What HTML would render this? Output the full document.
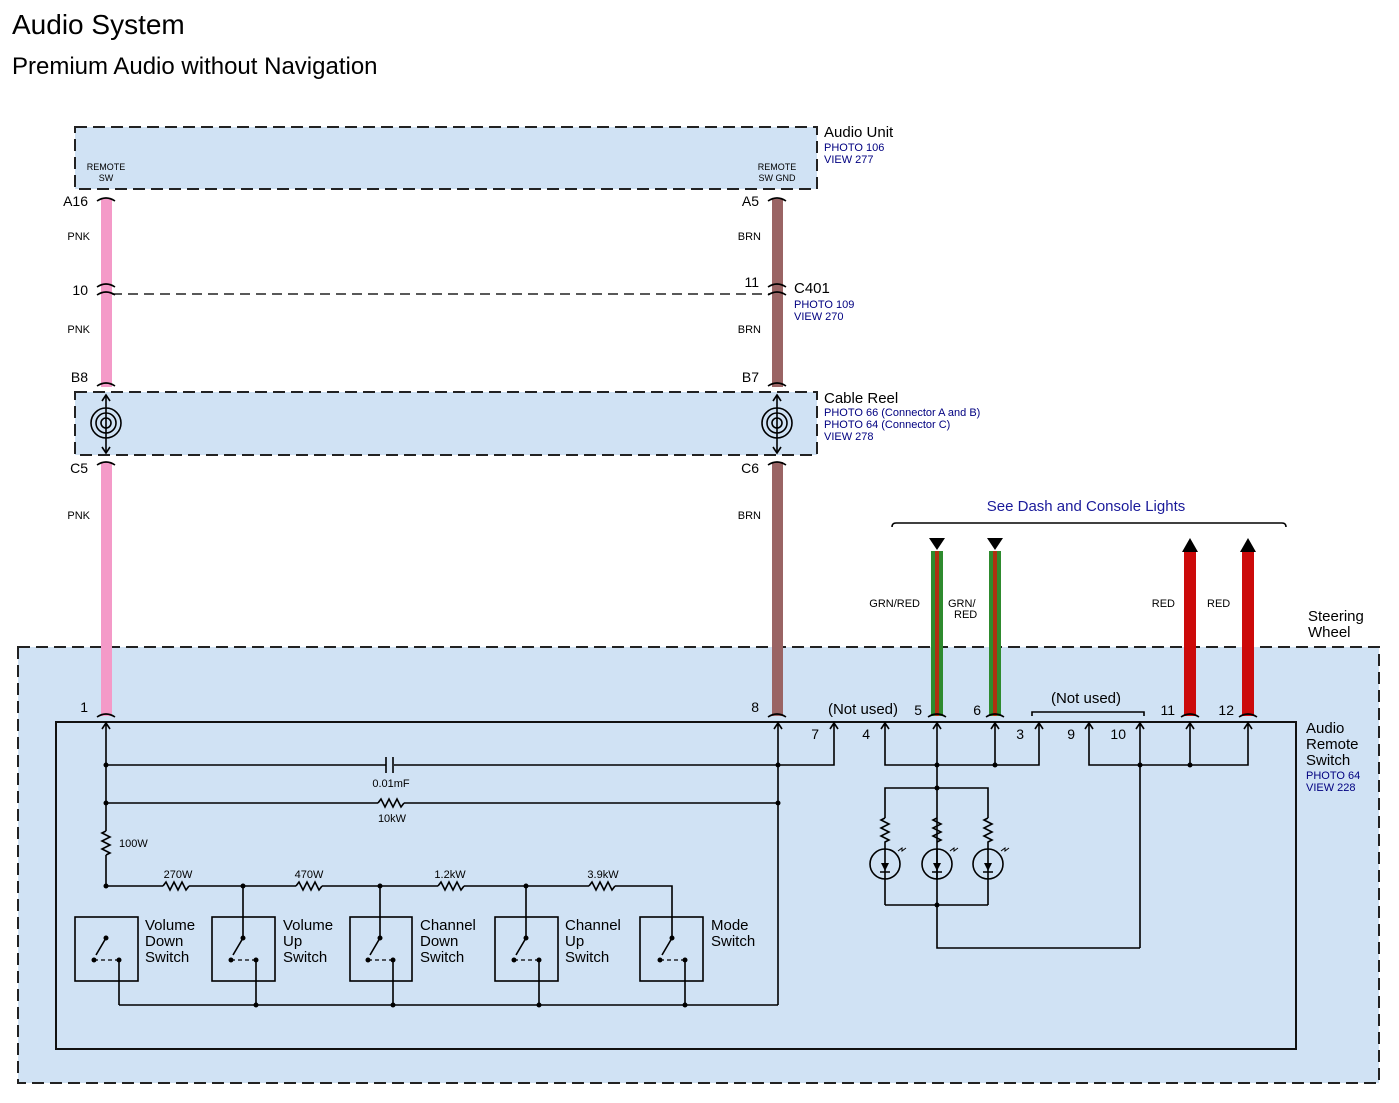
<!DOCTYPE html>
<html><head><meta charset="utf-8"><style>
body{margin:0;background:#fff;}
svg{display:block;font-family:"Liberation Sans",Arial,sans-serif;}
.b{fill:#000080;font-size:11px}
.s{font-size:12px}
.w{stroke:#000;stroke-width:1.6;fill:none}
</style></head><body>
<svg width="1399" height="1103" viewBox="0 0 1399 1103">
<text x="12" y="34" font-size="28">Audio System</text>
<text x="12" y="74" font-size="24">Premium Audio without Navigation</text>

<rect x="18" y="647" width="1361" height="436" fill="#d0e2f4" stroke="#222" stroke-width="2" stroke-dasharray="12,6"/>
<rect x="56" y="722" width="1240" height="327" fill="none" stroke="#111" stroke-width="2"/>
<text x="1308" y="621" font-size="15">Steering</text><text x="1308" y="637" font-size="15">Wheel</text>
<text x="1306" y="733" font-size="15">Audio</text><text x="1306" y="749" font-size="15">Remote</text><text x="1306" y="765" font-size="15">Switch</text>
<text x="1306" y="779" class="b">PHOTO 64</text><text x="1306" y="791" class="b">VIEW 228</text>

<rect x="75" y="127" width="742" height="62" fill="#d0e2f4" stroke="#222" stroke-width="2" stroke-dasharray="12,6"/>
<text x="106" y="170" font-size="9" text-anchor="middle">REMOTE</text><text x="106" y="181" font-size="9" text-anchor="middle">SW</text>
<text x="777" y="170" font-size="9" text-anchor="middle">REMOTE</text><text x="777" y="181" font-size="9" text-anchor="middle">SW GND</text>
<text x="824" y="137" font-size="15">Audio Unit</text><text x="824" y="151" class="b">PHOTO 106</text><text x="824" y="163" class="b">VIEW 277</text>

<rect x="75" y="392" width="742" height="63" fill="#d0e2f4" stroke="#222" stroke-width="2" stroke-dasharray="12,6"/>
<text x="824" y="403" font-size="15">Cable Reel</text>
<text x="824" y="416" class="b">PHOTO 66 (Connector A and B)</text>
<text x="824" y="428" class="b">PHOTO 64 (Connector C)</text>
<text x="824" y="440" class="b">VIEW 278</text>

<line x1="112" y1="294" x2="770" y2="294" stroke="#222" stroke-width="1.5" stroke-dasharray="10,6"/>
<text x="794" y="293" font-size="15">C401</text><text x="794" y="308" class="b">PHOTO 109</text><text x="794" y="320" class="b">VIEW 270</text>

<rect x="101" y="199" width="11" height="188" fill="#f49ac8"/>
<rect x="101" y="462" width="11" height="254" fill="#f49ac8"/>
<rect x="772" y="199" width="11" height="188" fill="#9a6464"/>
<rect x="772" y="462" width="11" height="254" fill="#9a6464"/>
<g class="w" stroke-width="2">
<path d="M97 201 Q106 195 115 201"/><path d="M97 287 Q106 281 115 287"/><path d="M97 295 Q106 289 115 295"/><path d="M97 386 Q106 380 115 386"/><path d="M97 465 Q106 459 115 465"/><path d="M97 717 Q106 711 115 717"/>
<path d="M768 201 Q777 195 786 201"/><path d="M768 287 Q777 281 786 287"/><path d="M768 295 Q777 289 786 295"/><path d="M768 386 Q777 380 786 386"/><path d="M768 465 Q777 459 786 465"/><path d="M768 717 Q777 711 786 717"/>
</g>
<text x="88" y="206" font-size="14" text-anchor="end">A16</text><text x="90" y="240" font-size="11" text-anchor="end">PNK</text>
<text x="88" y="295" font-size="14" text-anchor="end">10</text><text x="90" y="333" font-size="11" text-anchor="end">PNK</text>
<text x="88" y="382" font-size="14" text-anchor="end">B8</text><text x="88" y="473" font-size="14" text-anchor="end">C5</text><text x="90" y="519" font-size="11" text-anchor="end">PNK</text>
<text x="88" y="712" font-size="14" text-anchor="end">1</text>
<text x="759" y="206" font-size="14" text-anchor="end">A5</text><text x="761" y="240" font-size="11" text-anchor="end">BRN</text>
<text x="759" y="287" font-size="14" text-anchor="end">11</text><text x="761" y="333" font-size="11" text-anchor="end">BRN</text>
<text x="759" y="382" font-size="14" text-anchor="end">B7</text><text x="759" y="473" font-size="14" text-anchor="end">C6</text><text x="761" y="519" font-size="11" text-anchor="end">BRN</text>
<text x="759" y="712" font-size="14" text-anchor="end">8</text>

<g class="w" stroke-width="1.5">
<circle cx="106" cy="423" r="15"/><circle cx="106" cy="423" r="10"/><circle cx="106" cy="423" r="5"/>
<line x1="106" y1="396" x2="106" y2="452"/><path d="M102 401 L106 395 L110 401 M102 447 L106 453 L110 447"/>
<circle cx="777" cy="423" r="15"/><circle cx="777" cy="423" r="10"/><circle cx="777" cy="423" r="5"/>
<line x1="777" y1="396" x2="777" y2="452"/><path d="M773 401 L777 395 L781 401 M773 447 L777 453 L781 447"/>
</g>

<text x="1086" y="511" font-size="15" fill="#1a1a9a" text-anchor="middle">See Dash and Console Lights</text>
<path d="M892 527 Q892 523 896 523 L1282 523 Q1286 523 1286 527" class="w" stroke-width="1.3"/>
<rect x="931" y="551" width="12" height="165" fill="#2e8b2e"/><rect x="935" y="551" width="4" height="165" fill="#b03010"/>
<rect x="989" y="551" width="12" height="165" fill="#2e8b2e"/><rect x="993" y="551" width="4" height="165" fill="#b03010"/>
<path d="M929 538 L945 538 L937 550Z M987 538 L1003 538 L995 550Z"/>
<rect x="1184" y="551" width="12" height="165" fill="#cc0a0a"/><rect x="1242" y="551" width="12" height="165" fill="#cc0a0a"/>
<path d="M1182 552 L1198 552 L1190 538Z M1240 552 L1256 552 L1248 538Z"/>
<text x="920" y="607" font-size="11" text-anchor="end">GRN/RED</text>
<text x="948" y="607" font-size="11">GRN/</text><text x="954" y="618" font-size="11">RED</text>
<text x="1175" y="607" font-size="11" text-anchor="end">RED</text><text x="1207" y="607" font-size="11">RED</text>
<g class="w" stroke-width="2">
<path d="M928 717 Q937 711 946 717"/><path d="M986 717 Q995 711 1004 717"/><path d="M1181 717 Q1190 711 1199 717"/><path d="M1239 717 Q1248 711 1257 717"/>
</g>
<text x="898" y="714" font-size="15" text-anchor="end">(Not used)</text>
<text x="922" y="715" font-size="14" text-anchor="end">5</text><text x="981" y="715" font-size="14" text-anchor="end">6</text>
<text x="1175" y="715" font-size="14" text-anchor="end">11</text><text x="1234" y="715" font-size="14" text-anchor="end">12</text>
<text x="1086" y="703" font-size="15" text-anchor="middle">(Not used)</text>
<path d="M1032 716 L1032 712 L1144 712 L1144 716" class="w" stroke-width="1.2"/>
<text x="819" y="739" font-size="14" text-anchor="end">7</text><text x="870" y="739" font-size="14" text-anchor="end">4</text>
<text x="1024" y="739" font-size="14" text-anchor="end">3</text><text x="1075" y="739" font-size="14" text-anchor="end">9</text><text x="1126" y="739" font-size="14" text-anchor="end">10</text>

<g class="w">
<path d="M106 722V886 M102 729 L106 723 L110 729"/>
<path d="M778 722V1005 M774 729 L778 723 L782 729"/>
<path d="M834 722V765H106 M830 729 L834 723 L838 729"/>
<path d="M106 803H778"/>
<path d="M106 886H672V917"/>
<path d="M885 722V765H1039V722 M881 729 L885 723 L889 729 M1035 729 L1039 723 L1043 729"/>
<path d="M937 722V948H1140 M933 729 L937 723 L941 729"/>
<path d="M995 722V765 M991 729 L995 723 L999 729"/>
<path d="M1089 722V765H1248V722 M1085 729 L1089 723 L1093 729 M1244 729 L1248 723 L1252 729"/>
<path d="M1140 722V948 M1136 729 L1140 723 L1144 729"/>
<path d="M1190 722V765 M1186 729 L1190 723 L1194 729"/>
<path d="M885 818V788H988V818 M885 905H988 M885 880V905 M988 880V905"/>
<path d="M119 1005H778"/>
<path d="M243 886V938 M380 886V938 M526 886V938 M672 917V938"/>
</g>
<rect x="386" y="758" width="8" height="14" fill="#d0e2f4"/>
<g class="w"><line x1="386" y1="757" x2="386" y2="773"/><line x1="393" y1="757" x2="393" y2="773"/></g>
<text x="391" y="787" font-size="11" text-anchor="middle">0.01mF</text>
<text x="392" y="822" font-size="11" text-anchor="middle">10kW</text>
<g fill="#d0e2f4" stroke="none"><rect x="378" y="798" width="26" height="10"/><rect x="163" y="881" width="26" height="10"/><rect x="296" y="881" width="26" height="10"/><rect x="438" y="881" width="26" height="10"/><rect x="589" y="881" width="26" height="10"/><rect x="101" y="831" width="10" height="24"/></g>
<g class="w" stroke-width="1.3">
<path d="M378 803 l3 -4 l4 8 l4 -8 l4 8 l4 -8 l4 8 l3 -4"/>
<path d="M163 886 l3 -4 l4 8 l4 -8 l4 8 l4 -8 l4 8 l3 -4"/>
<path d="M296 886 l3 -4 l4 8 l4 -8 l4 8 l4 -8 l4 8 l3 -4"/>
<path d="M438 886 l3 -4 l4 8 l4 -8 l4 8 l4 -8 l4 8 l3 -4"/>
<path d="M589 886 l3 -4 l4 8 l4 -8 l4 8 l4 -8 l4 8 l3 -4"/>
<path d="M106 831 l-4 2 l8 4 l-8 4 l8 4 l-8 4 l8 4 l-4 2"/>
<path d="M885 818 l-4 2 l8 4 l-8 4 l8 4 l-8 4 l8 4 l-4 2V849"/>
<path d="M937 818 l-4 2 l8 4 l-8 4 l8 4 l-8 4 l8 4 l-4 2"/>
<path d="M988 818 l-4 2 l8 4 l-8 4 l8 4 l-8 4 l8 4 l-4 2V849"/>
</g>
<text x="119" y="847" font-size="11">100W</text>
<text x="178" y="878" font-size="11" text-anchor="middle">270W</text><text x="309" y="878" font-size="11" text-anchor="middle">470W</text>
<text x="450" y="878" font-size="11" text-anchor="middle">1.2kW</text><text x="603" y="878" font-size="11" text-anchor="middle">3.9kW</text>
<g class="w" stroke-width="1.5">
<circle cx="885" cy="864" r="15"/><circle cx="937" cy="864" r="15"/><circle cx="988" cy="864" r="15"/>
<path d="M885 849V880 M937 849V880 M988 849V880"/>
<path d="M880 872H890 M932 872H942 M983 872H993"/>
<path d="M898 851 l4 -3 l0 3 l4 -3 M950 851 l4 -3 l0 3 l4 -3 M1001 851 l4 -3 l0 3 l4 -3" stroke-width="1"/>
</g>
<path d="M881 863H889L885 871Z M933 863H941L937 871Z M984 863H992L988 871Z"/>
<g>
<circle cx="106" cy="765" r="2.5"/><circle cx="106" cy="803" r="2.5"/><circle cx="778" cy="765" r="2.5"/><circle cx="778" cy="803" r="2.5"/>
<circle cx="106" cy="886" r="2.5"/><circle cx="243" cy="886" r="2.5"/><circle cx="380" cy="886" r="2.5"/><circle cx="526" cy="886" r="2.5"/>
<circle cx="256" cy="1005" r="2.5"/><circle cx="393" cy="1005" r="2.5"/><circle cx="539" cy="1005" r="2.5"/><circle cx="685" cy="1005" r="2.5"/>
<circle cx="937" cy="765" r="2.5"/><circle cx="995" cy="765" r="2.5"/><circle cx="937" cy="788" r="2.5"/><circle cx="937" cy="905" r="2.5"/>
<circle cx="1140" cy="765" r="2.5"/><circle cx="1190" cy="765" r="2.5"/>
</g>
<g class="w">
<rect x="75" y="917" width="63" height="64"/><rect x="212" y="917" width="63" height="64"/><rect x="350" y="917" width="62" height="64"/><rect x="495" y="917" width="63" height="64"/><rect x="640" y="917" width="63" height="64"/>
<path d="M106 938L96 955 M119 960V1005 M243 938L233 955 M256 960V1005 M380 938L370 955 M393 960V1005 M526 938L516 955 M539 960V1005 M672 938L662 955 M685 960V1005"/>
<path d="M94 960H119 M231 960H256 M368 960H393 M514 960H539 M660 960H685" stroke-dasharray="4,3" stroke-width="1.2"/>
</g>
<g>
<circle cx="106" cy="938" r="2.5"/><circle cx="94" cy="960" r="2.5"/><circle cx="119" cy="960" r="2.5"/>
<circle cx="243" cy="938" r="2.5"/><circle cx="231" cy="960" r="2.5"/><circle cx="256" cy="960" r="2.5"/>
<circle cx="380" cy="938" r="2.5"/><circle cx="368" cy="960" r="2.5"/><circle cx="393" cy="960" r="2.5"/>
<circle cx="526" cy="938" r="2.5"/><circle cx="514" cy="960" r="2.5"/><circle cx="539" cy="960" r="2.5"/>
<circle cx="672" cy="938" r="2.5"/><circle cx="660" cy="960" r="2.5"/><circle cx="685" cy="960" r="2.5"/>
</g>
<g font-size="15">
<text x="145" y="930">Volume</text><text x="145" y="946">Down</text><text x="145" y="962">Switch</text>
<text x="283" y="930">Volume</text><text x="283" y="946">Up</text><text x="283" y="962">Switch</text>
<text x="420" y="930">Channel</text><text x="420" y="946">Down</text><text x="420" y="962">Switch</text>
<text x="565" y="930">Channel</text><text x="565" y="946">Up</text><text x="565" y="962">Switch</text>
<text x="711" y="930">Mode</text><text x="711" y="946">Switch</text>
</g>
</svg>
</body></html>
